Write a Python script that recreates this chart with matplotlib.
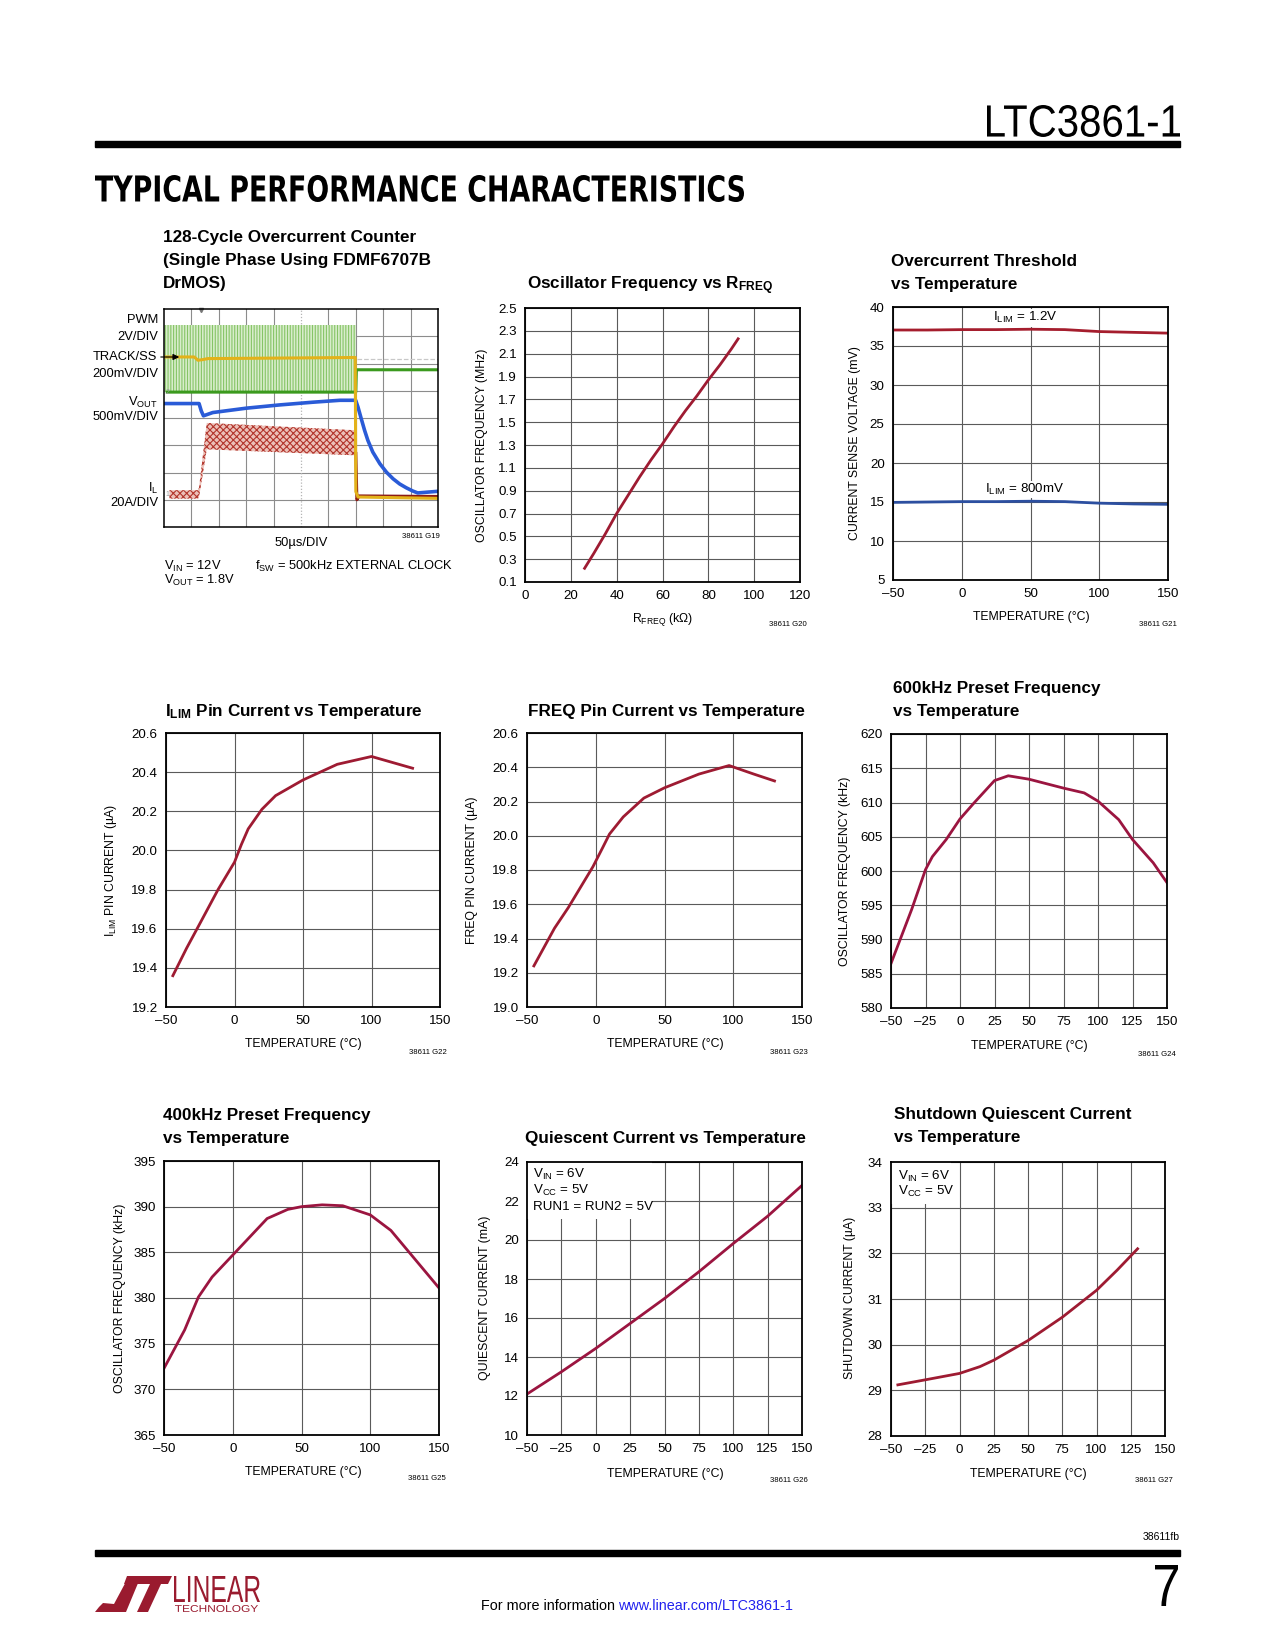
import numpy as np
import matplotlib
matplotlib.use("Agg")
import matplotlib.pyplot as plt
from matplotlib.patches import Polygon, PathPatch, Rectangle, FancyArrowPatch
from matplotlib.textpath import TextPath
from matplotlib.font_manager import FontProperties
from matplotlib.transforms import Affine2D

# ---------------- data ----------------
# G19 scope shot (time in us, level in divisions from the bottom, 8 div tall)
pwm_t = [0, 350]
pwm_hi = [7.43, 7.43]
pwm_lo = [4.95, 4.95]
pwm_base_t = [6, 350, 351, 500]
pwm_base_v = [4.95, 4.95, 5.77, 5.77]
track_t = [0, 55, 62, 70, 80, 349, 350, 354, 500]
track_v = [6.24, 6.24, 6.12, 6.14, 6.18, 6.22, 1.3, 1.1, 1.05]
track_ref_t = [352, 500]
track_ref_v = [6.16, 6.16]
vout_t = [0, 64, 68, 72, 89, 150, 211, 272, 321, 349.8, 354, 360, 366, 372, 381, 394, 406, 418,
          430, 442, 454, 463, 500]
vout_v = [4.53, 4.53, 4.26, 4.08, 4.2, 4.36, 4.48, 4.58, 4.65, 4.65, 4.40, 3.97, 3.55, 3.18,
          2.75, 2.32, 2.01, 1.77, 1.58, 1.44, 1.32, 1.25, 1.31]
il_t = [10, 62, 64, 78, 350]
il_top = [1.35, 1.35, 1.45, 3.82, 3.55]
il_bot = [1.04, 1.04, 1.1, 2.85, 2.63]
il_off_t = [350, 352, 356, 500]
il_off_v = [2.7, 1.0, 1.14, 1.12]
trigger_t = 67

# G20 oscillator frequency vs RFREQ
rfreq_k = [26, 30, 35, 40, 45, 50, 55, 60, 65, 70, 75, 80, 85, 90, 93]
osc_mhz = [0.22, 0.35, 0.52, 0.70, 0.86, 1.02, 1.17, 1.31, 1.46, 1.60, 1.73, 1.87, 2.00, 2.14, 2.23]
rfreq_ticks = [0, 20, 40, 60, 80, 100, 120]
osc_ticks = [0.1, 0.3, 0.5, 0.7, 0.9, 1.1, 1.3, 1.5, 1.7, 1.9, 2.1, 2.3, 2.5]

# G21 overcurrent threshold
oc_temp = [-50, -25, 0, 25, 50, 75, 100, 125, 150]
oc_1v2 = [37.05, 37.05, 37.1, 37.1, 37.15, 37.1, 36.85, 36.75, 36.65]
oc_800m = [14.95, 15.0, 15.05, 15.05, 15.1, 15.05, 14.85, 14.75, 14.7]
oc_ticks = [5, 10, 15, 20, 25, 30, 35, 40]

# G22 ILIM pin current
ilim_temp = [-45, -35, -25, -12, 0, 5, 10, 20, 30, 50, 75, 100, 115, 130]
ilim_ua = [19.36, 19.50, 19.63, 19.80, 19.94, 20.03, 20.11, 20.21, 20.28, 20.36, 20.44, 20.48, 20.45, 20.42]
ilim_ticks = [19.2, 19.4, 19.6, 19.8, 20.0, 20.2, 20.4, 20.6]

# G23 FREQ pin current
freq_temp = [-45, -30, -20, -2, 5, 10, 20, 35, 50, 75, 97, 115, 130]
freq_ua = [19.24, 19.46, 19.58, 19.82, 19.93, 20.01, 20.11, 20.22, 20.28, 20.36, 20.41, 20.36, 20.32]
freq_ticks = [19.0, 19.2, 19.4, 19.6, 19.8, 20.0, 20.2, 20.4, 20.6]

# G24 600kHz preset
f600_temp = [-50, -35, -25, -20, -10, 0, 10, 25, 35, 50, 75, 90, 100, 115, 125, 140, 150]
f600_khz = [586.5, 594.4, 600.2, 602.1, 604.6, 607.6, 609.9, 613.2, 613.9, 613.4, 612.1, 611.4,
            610.2, 607.5, 604.6, 601.2, 598.3]
f600_ticks = [580, 585, 590, 595, 600, 605, 610, 615, 620]

# G25 400kHz preset
f400_temp = [-50, -35, -25, -15, 0, 15, 25, 40, 50, 65, 80, 100, 115, 130, 150]
f400_khz = [372.3, 376.5, 380.1, 382.3, 384.7, 387.1, 388.7, 389.7, 390.0, 390.2, 390.1, 389.1,
            387.4, 384.7, 381.1]
f400_ticks = [365, 370, 375, 380, 385, 390, 395]

# G26 quiescent current
iq_temp = [-50, -25, 0, 25, 50, 75, 100, 125, 150]
iq_ma = [12.1, 13.24, 14.44, 15.72, 17.0, 18.37, 19.82, 21.22, 22.8]
iq_ticks = [10, 12, 14, 16, 18, 20, 22, 24]

# G27 shutdown current
sd_temp = [-45, -25, 0, 15, 25, 50, 75, 100, 115, 130]
sd_ua = [29.12, 29.23, 29.37, 29.52, 29.66, 30.09, 30.6, 31.19, 31.63, 32.1]
sd_ticks = [28, 29, 30, 31, 32, 33, 34]

temp_ticks_50 = [-50, 0, 50, 100, 150]
temp_ticks_25 = [-50, -25, 0, 25, 50, 75, 100, 125, 150]

# ---------------- page setup ----------------
W, H = 1275, 1650
plt.rcParams['font.family'] = ['Liberation Sans', 'DejaVu Sans']
plt.rcParams['mathtext.fontset'] = 'custom'
plt.rcParams['mathtext.rm'] = 'Liberation Sans'
plt.rcParams['mathtext.it'] = 'Liberation Sans:italic'
plt.rcParams['mathtext.bf'] = 'Liberation Sans:bold'
plt.rcParams['hatch.linewidth'] = 0.8

RED = '#9e1b32'
CRIMSON = '#9b1540'
BLUE = '#2c4fa0'
GRID = '#5a5a5a'
LOGO = '#9a1b2f'
TITLE_FS = 12.3
TICK_FS = 9.6
AXLAB_FS = 8.8
SCOPE_FS = 9.3

fig = plt.figure(figsize=(W / 100, H / 100), dpi=100)


def fx(x):
    return x / W


def fy(y):
    return 1 - y / H


def add_axes(x0, y0, x1, y1):
    return fig.add_axes([fx(x0), fy(y1), (x1 - x0) / W, (y1 - y0) / H])


def label(x, y, s, **kw):
    kw.setdefault('fontsize', TICK_FS)
    kw.setdefault('va', 'center')
    return fig.text(fx(x), fy(y), s, **kw)


def dash(v):
    return '\u2013' + str(abs(v)) if v < 0 else str(v)


def chart(box, xlim, xticks, ylim, yticks, yfmt):
    ax = add_axes(*box)
    ax.set_xlim(xlim)
    ax.set_ylim(ylim)
    ax.set_xticks(xticks)
    ax.set_yticks(yticks)
    ax.set_xticklabels([dash(v) for v in xticks])
    ax.set_yticklabels([yfmt.format(v) for v in yticks])
    ax.grid(True, color=GRID, lw=0.8)
    ax.set_axisbelow(True)
    ax.tick_params(length=0, pad=6, labelsize=TICK_FS)
    for s in ax.spines.values():
        s.set_linewidth(1.3)
    return ax


def title(x, ys, lines):
    for y, s in zip(ys, lines):
        label(x, y + 6, s, fontsize=TITLE_FS, fontweight='bold', va='baseline')


def axis_labels(xl, yl):
    (x, y, s) = xl
    label(x, y + 4.5, s, fontsize=AXLAB_FS, ha='center', va='baseline')
    (x, y, s) = yl
    label(x, y, s, fontsize=AXLAB_FS, ha='center', va='center', rotation=90)


def code(x, y, s):
    label(x, y, s, fontsize=5.6, ha='right')


def path_text(s, box, family, weight, color):
    path = TextPath((0, 0), s, size=100, prop=FontProperties(family=family, weight=weight))
    bb = path.get_extents()
    x0, y0, x1, y1 = box
    tr = Affine2D().translate(-bb.x0, -bb.y0).scale((x1 - x0) / bb.width, (y1 - y0) / bb.height) \
        .translate(x0, H - y1)
    fig.add_artist(PathPatch(path, transform=tr, fc=color, ec='none'))


# ---------------- header / footer ----------------
path_text('LTC3861-1', (987, 105, 1180, 137), 'Liberation Sans', 'normal', 'black')
fig.add_artist(Rectangle((fx(95), fy(147)), (1180 - 95) / W, 6 / H, transform=fig.transFigure,
                         color='black'))
path_text('TYPICAL PERFORMANCE CHARACTERISTICS', (95, 175, 744, 202), 'DejaVu Sans', 'bold', 'black')

fig.add_artist(Rectangle((fx(95), fy(1556)), (1180 - 95) / W, 6 / H, transform=fig.transFigure,
                         color='black'))
label(1180, 1537, '38611fb', fontsize=7.5, ha='right')
path_text('7', (1155, 1565, 1178, 1606), 'Liberation Sans', 'normal', 'black')
t1 = label(481, 1606, 'For more information', fontsize=10.4)
bb = t1.get_window_extent(renderer=fig.canvas.get_renderer())
fig.text((bb.x1 + 3) / W, fy(1606), 'www.linear.com/LTC3861-1', fontsize=10.4, va='center',
         color='#2222ee')

# Linear Technology logo
logo_L = [(95, 1612), (126, 1612), (141, 1576), (129, 1576), (114, 1604), (103, 1603), (99, 1607)]
logo_T_bar = [(127, 1576), (172, 1576), (168, 1584), (124, 1584)]
logo_T_stem = [(150, 1584), (161, 1584), (148, 1612), (137, 1612)]
for poly in (logo_L, logo_T_bar, logo_T_stem):
    fig.add_artist(Polygon([(fx(a), fy(b)) for a, b in poly], closed=True,
                           transform=fig.transFigure, fc=LOGO, ec='none'))
path_text('LINEAR', (174, 1576, 260, 1602), 'Liberation Sans', 'normal', LOGO)
path_text('TECHNOLOGY', (175, 1605, 258, 1612), 'Liberation Sans', 'normal', LOGO)

# ---------------- G19 scope shot ----------------
title(163, [236, 259, 282], ['128-Cycle Overcurrent Counter', '(Single Phase Using FDMF6707B', 'DrMOS)'])
ax = add_axes(164, 309, 438, 527)
ax.set_xlim(0, 500)
ax.set_ylim(0, 8)
ax.set_xticks([])
ax.set_yticks([])
for s in ax.spines.values():
    s.set_linewidth(1.1)
for t in np.arange(50, 500, 50):
    if t != 250:
        ax.axvline(t, color='#8c8c8c', lw=0.8, zorder=0)
for v in range(1, 8):
    ax.axhline(v, color='#8c8c8c', lw=0.8, zorder=0)
ax.axvline(250, color='#b5b5b5', lw=0.9, ls=(0, (1, 1.5)), zorder=0)

ax.fill_between(pwm_t, pwm_lo, pwm_hi, facecolor='#d8edcb', edgecolor='#86c466', hatch='||||||', lw=0)
ax.plot(pwm_base_t, pwm_base_v, color='#3b9a1e', lw=2.2)
ax.fill_between(il_t, il_bot, il_top, facecolor='#ecc0b8', edgecolor='#b2352c', hatch='xxxxx', lw=0)
ax.plot(il_off_t, il_off_v, color='#8c1a14', lw=2.2)
ax.plot(track_ref_t, track_ref_v, color='#c8c8c8', lw=0.9, ls='--')
ax.plot(vout_t, vout_v, color='#2a5bd7', lw=2.6)
ax.plot(track_t, track_v, color='#e3b21a', lw=2.2)
ax.text(3, 4.95, '2', fontsize=5, color='#999999', va='center')
ax.text(3, 1.2, '1', fontsize=5, color='#999999', va='center')
ax.plot([trigger_t], [7.97], marker='v', ms=3, color='#777777', clip_on=False)

label(158, 320, 'PWM', ha='right', fontsize=SCOPE_FS)
label(158, 337, '2V/DIV', ha='right', fontsize=SCOPE_FS)
label(157, 357, 'TRACK/SS', ha='right', fontsize=SCOPE_FS)
fig.add_artist(FancyArrowPatch((fx(158), fy(357)), (fx(182), fy(357)), transform=fig.transFigure,
                               arrowstyle='-|>', mutation_scale=9, lw=0.8, color='black'))
label(158, 374, '200mV/DIV', ha='right', fontsize=SCOPE_FS)
label(158, 406, r'$\mathregular{V_{OUT}}$', ha='right', va='baseline', fontsize=SCOPE_FS)
label(158, 417, '500mV/DIV', ha='right', fontsize=SCOPE_FS)
label(158, 492, r'$\mathregular{I_{L}}$', ha='right', va='baseline', fontsize=SCOPE_FS)
label(158, 503, '20A/DIV', ha='right', fontsize=SCOPE_FS)
label(301, 543, '50\u00b5s/DIV', ha='center', fontsize=SCOPE_FS)
code(440, 537, '38611 G19')
label(164, 570, r'$\mathregular{V_{IN}}$ = 12V', va='baseline', fontsize=SCOPE_FS)
label(164, 584, r'$\mathregular{V_{OUT}}$ = 1.8V', va='baseline', fontsize=SCOPE_FS)
label(255, 570, r'$\mathregular{f_{SW}}$ = 500kHz EXTERNAL CLOCK', va='baseline', fontsize=SCOPE_FS)

# ---------------- G20 ----------------
title(527, [283], [r'Oscillator Frequency vs $\mathbf{R_{FREQ}}$'])
ax = chart((525, 308, 800, 582), (0, 120), rfreq_ticks, (0.1, 2.5), osc_ticks, '{:.1f}')
ax.plot(rfreq_k, osc_mhz, color=RED, lw=2.0)
axis_labels((663, 617, '$\\mathregular{R_{FREQ}}$ (k\u03a9)'), (482, 445, 'OSCILLATOR FREQUENCY (MHz)'))
code(807, 624, '38611 G20')

# ---------------- G21 ----------------
title(891, [260, 283], ['Overcurrent Threshold', 'vs Temperature'])
ax = chart((893, 307, 1168, 580), (-50, 150), temp_ticks_50, (5, 40), oc_ticks, '{}')
ax.plot(oc_temp, oc_1v2, color='#a51d2d', lw=2.0)
ax.plot(oc_temp, oc_800m, color=BLUE, lw=2.0)
lab_box = dict(facecolor='white', edgecolor='none', pad=1.0)
ax.text(46, 38.6, r'$\mathregular{I_{LIM}}$ = 1.2V', ha='center', va='center', fontsize=TICK_FS, bbox=lab_box)
ax.text(46, 16.6, r'$\mathregular{I_{LIM}}$ = 800mV', ha='center', va='center', fontsize=TICK_FS, bbox=lab_box)
axis_labels((1031, 616, 'TEMPERATURE (\u00b0C)'), (855, 443, 'CURRENT SENSE VOLTAGE (mV)'))
code(1177, 625, '38611 G21')

# ---------------- G22 ----------------
title(165, [710], [r'$\mathbf{I_{LIM}}$ Pin Current vs Temperature'])
ax = chart((166, 733, 440, 1007), (-50, 150), temp_ticks_50, (19.2, 20.6), ilim_ticks, '{:.1f}')
ax.plot(ilim_temp, ilim_ua, color=RED, lw=2.0)
axis_labels((303, 1042, 'TEMPERATURE (\u00b0C)'),
            (111, 870, '$\\mathregular{I_{LIM}}$ PIN CURRENT (\u00b5A)'))
code(447, 1052, '38611 G22')

# ---------------- G23 ----------------
title(528, [710], ['FREQ Pin Current vs Temperature'])
ax = chart((527, 733, 802, 1007), (-50, 150), temp_ticks_50, (19.0, 20.6), freq_ticks, '{:.1f}')
ax.plot(freq_temp, freq_ua, color=RED, lw=2.0)
axis_labels((665, 1042, 'TEMPERATURE (\u00b0C)'), (472, 870, 'FREQ PIN CURRENT (\u00b5A)'))
code(808, 1052, '38611 G23')

# ---------------- G24 ----------------
title(893, [687, 710], ['600kHz Preset Frequency', 'vs Temperature'])
ax = chart((891, 734, 1167, 1008), (-50, 150), temp_ticks_25, (580, 620), f600_ticks, '{}')
ax.plot(f600_temp, f600_khz, color=CRIMSON, lw=2.0)
axis_labels((1029, 1045, 'TEMPERATURE (\u00b0C)'), (845, 871, 'OSCILLATOR FREQUENCY (kHz)'))
code(1176, 1055, '38611 G24')

# ---------------- G25 ----------------
title(163, [1114, 1137], ['400kHz Preset Frequency', 'vs Temperature'])
ax = chart((164, 1161, 439, 1435), (-50, 150), temp_ticks_50, (365, 395), f400_ticks, '{}')
ax.plot(f400_temp, f400_khz, color=CRIMSON, lw=2.0)
axis_labels((303, 1471, 'TEMPERATURE (\u00b0C)'), (120, 1298, 'OSCILLATOR FREQUENCY (kHz)'))
code(446, 1479, '38611 G25')

# ---------------- G26 ----------------
title(525, [1137], ['Quiescent Current vs Temperature'])
ax = chart((527, 1162, 802, 1435), (-50, 150), temp_ticks_25, (10, 24), iq_ticks, '{}')
ax.add_patch(Rectangle((0, 0.79), 0.455, 0.21, transform=ax.transAxes, fc='white', ec='none', zorder=1.5))
ax.plot(iq_temp, iq_ma, color=CRIMSON, lw=2.0)
label(533, 1178, r'$\mathregular{V_{IN}}$ = 6V', va='baseline', fontsize=TICK_FS)
label(533, 1194, r'$\mathregular{V_{CC}}$ = 5V', va='baseline', fontsize=TICK_FS)
label(533, 1207, 'RUN1 = RUN2 = 5V', fontsize=TICK_FS)
axis_labels((665, 1472, 'TEMPERATURE (\u00b0C)'), (485, 1298, 'QUIESCENT CURRENT (mA)'))
code(808, 1481, '38611 G26')

# ---------------- G27 ----------------
title(894, [1113, 1136], ['Shutdown Quiescent Current', 'vs Temperature'])
ax = chart((891, 1162, 1165, 1436), (-50, 150), temp_ticks_25, (28, 34), sd_ticks, '{}')
ax.add_patch(Rectangle((0, 0.845), 0.22, 0.155, transform=ax.transAxes, fc='white', ec='none', zorder=1.5))
ax.plot(sd_temp, sd_ua, color=RED, lw=2.0)
label(898, 1180, r'$\mathregular{V_{IN}}$ = 6V', va='baseline', fontsize=TICK_FS)
label(898, 1195, r'$\mathregular{V_{CC}}$ = 5V', va='baseline', fontsize=TICK_FS)
axis_labels((1028, 1472, 'TEMPERATURE (\u00b0C)'), (850, 1298, 'SHUTDOWN CURRENT (\u00b5A)'))
code(1173, 1480, '38611 G27')

fig.savefig('out.png', dpi=100, facecolor='white')
